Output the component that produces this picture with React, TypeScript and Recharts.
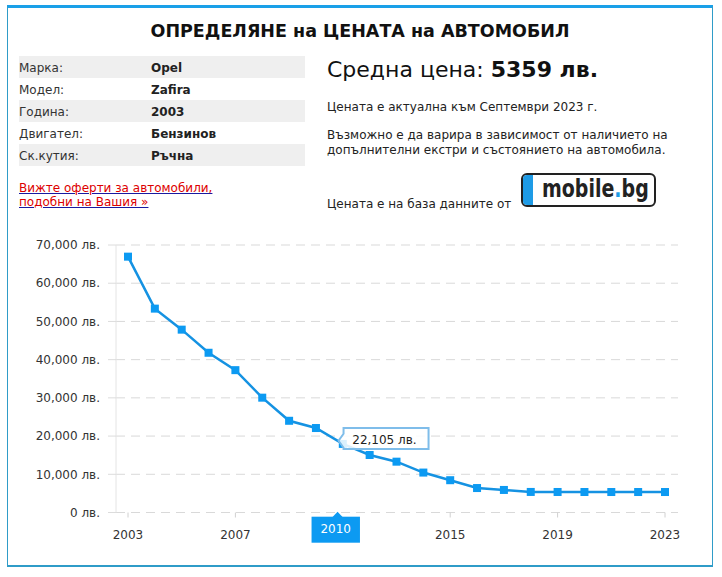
import { CartesianGrid, Line, LineChart, ReferenceDot, XAxis, YAxis } from 'recharts'

const years = [2003, 2004, 2005, 2006, 2007, 2008, 2009, 2010, 2011, 2012, 2013, 2014, 2015, 2016, 2017, 2018, 2019, 2020, 2021, 2022, 2023]
const prices = [66950, 53350, 47850, 41800, 37250, 30050, 24000, 22105, 17950, 15050, 13300, 10450, 8450, 6400, 5900, 5380, 5370, 5365, 5360, 5360, 5359]
const xTicks = [2003, 2007, 2015, 2019, 2023]
const yTicks = [0, 10000, 20000, 30000, 40000, 50000, 60000, 70000]
const hoverYear = 2010
const hoverPrice = 22105

const carRows = [
  ['Марка:', 'Opel'],
  ['Модел:', 'Zafira'],
  ['Година:', '2003'],
  ['Двигател:', 'Бензинов'],
  ['Ск.кутия:', 'Ръчна'],
]

const data = years.map((y, i) => ({ year: y, price: prices[i] }))

const FONT = '"DejaVu Sans", Verdana, sans-serif'
const BLUE = '#1592e2'
const DOT = '#0c9af2'

const fmt = (v: number) => v.toLocaleString('en-US') + ' лв.'

const SquareDot = (p: any) => (
  <rect key={p.index} x={p.cx - 4} y={p.cy - 4} width={8} height={8} fill={DOT} />
)

const Callout = ({ cx, cy }: any) => {
  const l = cx + 27.6, r = cx + 112.6, t = cy, b = cy + 21
  return (
    <g>
      <path
        d={`M${l},${t} H${r} V${b} H${l} V${cy + 19.7} L${cx + 22.6},${cy + 12.7} L${l},${cy + 5.7} Z`}
        fill="rgba(255,255,255,0.85)"
        stroke="#7fbdea"
        strokeWidth={2}
      />
      <text x={l + 8.7} y={cy + 15.7} fontSize={12} fontFamily={FONT} fill="#222">{fmt(hoverPrice)}</text>
    </g>
  )
}

const XHighlight = ({ cx, cy }: any) => (
  <g>
    <path d={`M${cx + 16.6},${cy + 4.5} L${cx + 21.6},${cy - 0.8} L${cx + 26.6},${cy + 4.5} Z`} fill={DOT} />
    <rect x={cx - 4.4} y={cy + 4.2} width={48.4} height={26} fill={DOT} />
    <text x={cx + 19.8} y={cy + 20.8} textAnchor="middle" fontSize={12} fontFamily={FONT} fill="#fff">{hoverYear}</text>
  </g>
)

const abs = (left: number, top: number, extra: any = {}) => ({ position: 'absolute' as const, left, top, ...extra })

export default function App() {
  return (
    <div style={{ position: 'absolute', left: 0, top: 0, width: 722, height: 577, background: '#fff', fontFamily: FONT, color: '#222' }}>
      <div style={abs(7, 5, {
        width: 706, height: 562, boxSizing: 'border-box',
        borderTop: '3px solid #1aa0e8', borderLeft: '1px solid #2f9cc8', borderRight: '1px solid #2f9cc8', borderBottom: '2px solid #2f9cc8',
      })} />

      <div style={abs(0, 21, { width: 720, textAlign: 'center', fontSize: 17.5, lineHeight: '20px', fontWeight: 'bold', color: '#111' })}>
        ОПРЕДЕЛЯНЕ на ЦЕНАТА на АВТОМОБИЛ
      </div>

      {carRows.map(([k, v], i) => (
        <div key={k} style={abs(19, 56 + i * 22, {
          width: 286, height: 22, background: i % 2 === 0 ? '#efefef' : 'transparent',
          fontSize: 12, lineHeight: '22px', paddingTop: 1, boxSizing: 'border-box', color: '#333',
        })}>
          <span style={{ position: 'absolute', left: 0 }}>{k}</span>
          <span style={{ position: 'absolute', left: 132, fontWeight: 'bold', color: '#222' }}>{v}</span>
        </div>
      ))}

      <div style={abs(19, 181, { fontSize: 12, lineHeight: '14px', color: '#d00', textDecoration: 'underline', textDecorationColor: '#1a1aa0' })}>
        Вижте оферти за автомобили,<br />подобни на Вашия »
      </div>

      <div style={abs(327, 57, { fontSize: 22, lineHeight: '26px', whiteSpace: 'nowrap', color: '#111' })}>
        Средна цена: <b>5359 лв.</b>
      </div>
      <div style={abs(327, 100, { fontSize: 12, lineHeight: '15px', color: '#222' })}>
        Цената е актуална към Септември 2023 г.
      </div>
      <div style={abs(327, 128, { fontSize: 12, lineHeight: '15px', color: '#222' })}>
        Възможно е да варира в зависимост от наличието на<br />допълнителни екстри и състоянието на автомобила.
      </div>
      <div style={abs(327, 197, { fontSize: 12, lineHeight: '15px', color: '#222' })}>
        Цената е на база данните от
      </div>

      <div style={abs(521, 173, {
        width: 135, height: 34, boxSizing: 'border-box', border: '2px solid #222', borderRadius: 6, overflow: 'hidden', background: '#fff',
      })}>
        <div style={{ position: 'absolute', left: 0, top: 0, width: 10, height: 30, background: '#1e9be6' }} />
        <div style={{
          position: 'absolute', left: 19, top: -2, fontFamily: FONT, transform: 'scaleX(0.76)', transformOrigin: '0 0',
          fontWeight: 'bold', fontSize: 25, lineHeight: '32px', color: '#222', whiteSpace: 'nowrap',
        }}>
          mobile<span style={{ color: '#1e9be6' }}>.</span>bg
        </div>
      </div>

      <div style={abs(0, 230)}>
        <LineChart width={722} height={320} data={data} margin={{ top: 15, right: 44, bottom: 7.5, left: 0 }}>
          <CartesianGrid vertical={false} stroke="#d9d9d9" strokeDasharray="9 6" />
          <XAxis
            dataKey="year"
            type="number"
            domain={[2003, 2023]}
            ticks={xTicks}
            padding={{ left: 12, right: 13 }}
            axisLine={false}
            tickLine={{ stroke: '#d0d0d0' }}
            tickSize={5}
            tickMargin={13}
            height={30}
            tick={{ fontSize: 12, fill: '#333', fontFamily: FONT }}
          />
          <YAxis
            domain={[0, 70000]}
            ticks={yTicks}
            width={116}
            axisLine={{ stroke: '#e4e4e4' }}
            tickLine={{ stroke: '#dcdcdc' }}
            tickSize={8}
            tickMargin={8}
            tickFormatter={fmt}
            tick={{ fontSize: 12, fill: '#333', fontFamily: FONT }}
          />
          <Line
            dataKey="price"
            stroke={BLUE}
            strokeWidth={2.5}
            dot={SquareDot}
            activeDot={false}
            isAnimationActive={false}
          />
          <ReferenceDot x={hoverYear} y={0} ifOverflow="visible" shape={XHighlight} />
          <ReferenceDot x={hoverYear} y={hoverPrice} ifOverflow="visible" shape={Callout} />
        </LineChart>
      </div>
    </div>
  )
}
